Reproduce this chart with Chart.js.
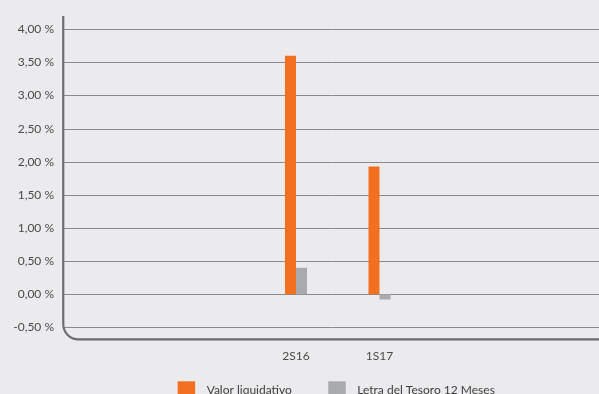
<!DOCTYPE html>
<html><head><meta charset="utf-8">
<script src="https://cdn.jsdelivr.net/npm/chart.js@4"></script>
<style>html,body{margin:0;padding:0;background:#ebebed;overflow:hidden}
#wrap{width:599px;height:394px;position:relative}
</style></head><body><div id="wrap"><canvas id="c" width="599" height="394"></canvas></div>
<script>
const categories = ['', '', '2S16', '1S17', '', ''];
const valorLiquidativo = [null, null, 3.60, 1.93, null, null];
const letraTesoro = [null, null, 0.40, -0.08, null, null];
const seriesNames = ['Valor liquidativo', 'Letra del Tesoro 12 Meses'];
const seriesColors = ['#f37021', '#a9aaac'];
const yTickValues = [-0.5, 0, 0.5, 1, 1.5, 2, 2.5, 3, 3.5, 4];

const AXIS_OFFSET = 24;
const FONT = 'Lato';

const framePlugin = {
  id: 'frame',
  beforeDraw(chart) {
    const ctx = chart.ctx;
    ctx.save();
    ctx.fillStyle = '#ebebed';
    ctx.fillRect(0, 0, chart.width, chart.height);
    ctx.restore();
  },
  beforeDatasetsDraw(chart) {
    const {ctx, chartArea, scales: {y}} = chart;
    const ax = chartArea.left - AXIS_OFFSET;
    ctx.save();
    ctx.strokeStyle = '#8a8a8c';
    ctx.lineWidth = 1;
    y.ticks.forEach(t => {
      const py = Math.round(y.getPixelForValue(t.value)) + 0.5;
      ctx.beginPath();
      ctx.moveTo(ax + 1, py);
      ctx.lineTo(chart.width, py);
      ctx.stroke();
    });
    ctx.restore();
  },
  afterDatasetsDraw(chart) {
    const {ctx, chartArea} = chart;
    const ax = chartArea.left - AXIS_OFFSET;
    const b = chartArea.bottom;
    const r = 15;
    ctx.save();
    ctx.strokeStyle = '#6d6d6f';
    ctx.lineWidth = 2.2;
    ctx.beginPath();
    ctx.moveTo(ax, chartArea.top);
    ctx.lineTo(ax, b - r);
    ctx.arcTo(ax, b, ax + r, b, r);
    ctx.lineTo(chart.width, b);
    ctx.stroke();
    ctx.restore();
  },
  afterDraw(chart) {
    const {ctx, chartArea} = chart;
    const box = 17.5, gap = 11.5, itemGap = 36.5;
    ctx.save();
    ctx.font = '12px ' + FONT;
    const widths = chart.data.datasets.map(d => ctx.measureText(d.label).width);
    let total = 0;
    widths.forEach((w, i) => { total += box + gap + w + (i ? itemGap : 0); });
    let x = (chartArea.left + chartArea.right) / 2 - total / 2 - 1.5;
    const top = 381.3;
    chart.data.datasets.forEach((d, i) => {
      ctx.fillStyle = d.backgroundColor;
      ctx.fillRect(x, top, box, 14);
      ctx.fillStyle = '#3e3e3e';
      ctx.textBaseline = 'alphabetic';
      ctx.textAlign = 'left';
      ctx.fillText(d.label, x + box + gap, 394);
      x += box + gap + widths[i] + itemGap;
    });
    ctx.restore();
  }
};

new Chart(document.getElementById('c'), {
  type: 'bar',
  data: {
    labels: categories,
    datasets: [
      {label: seriesNames[0], data: valorLiquidativo, backgroundColor: seriesColors[0]},
      {label: seriesNames[1], data: letraTesoro, backgroundColor: seriesColors[1]}
    ]
  },
  options: {
    responsive: false,
    devicePixelRatio: 1,
    animation: false,
    layout: {padding: {top: 16, right: 10.75, bottom: 0, left: 0}},
    datasets: {bar: {categoryPercentage: 22 / 83.5, barPercentage: 1}},
    plugins: {legend: {display: false}, tooltip: {enabled: false}},
    scales: {
      x: {
        grid: {display: false, drawTicks: false},
        border: {display: false},
        ticks: {font: {family: FONT, size: 12}, color: '#4a4a4a', padding: 10, autoSkip: false, maxRotation: 0},
        afterFit(s) { s.height = 54.7; }
      },
      y: {
        min: -0.68, max: 4.2,
        grid: {display: false, drawTicks: true, tickLength: 25.25},
        border: {display: false},
        afterBuildTicks(s) { s.ticks = yTickValues.map(v => ({value: v})); },
        ticks: {
          font: {family: FONT, size: 12}, color: '#4a4a4a', padding: 8,
          callback: v => v.toFixed(2).replace('.', ',') + ' %'
        },
        afterFit(s) { s.width = 87.25; }
      }
    }
  },
  plugins: [framePlugin]
});
</script></body></html>
